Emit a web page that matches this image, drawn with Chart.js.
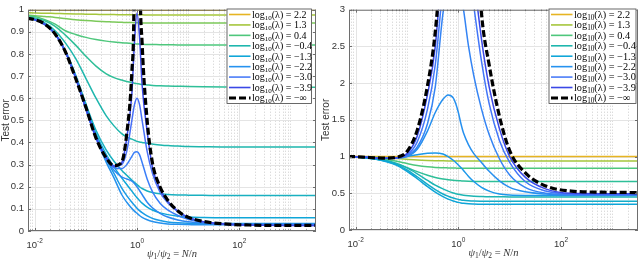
<!DOCTYPE html>
<html>
<head>
<meta charset="utf-8">
<script src="https://cdn.jsdelivr.net/npm/chart.js@4.4.0/dist/chart.umd.min.js"></script>
<style>
  html, body { margin: 0; padding: 0; background: #fff; }
  #wrap { position: relative; width: 640px; height: 259px; }
  .panel { position: absolute; top: 0; width: 320px; height: 259px; }
</style>
</head>
<body>
<div id="wrap">
  <div class="panel" style="left:0"><canvas id="left"></canvas></div>
  <div class="panel" style="left:320px"><canvas id="right"></canvas></div>
</div>
<script>
// shared x grid: psi1/psi2 = N/n
const xRatio = [0.00708, 0.01, 0.0158, 0.0251, 0.0398, 0.0631, 0.1, 0.158, 0.251, 0.355,
  0.501, 0.631, 0.794, 0.891, 1, 1.12, 1.26, 1.58, 2.0, 2.82, 3.98, 6.31, 10, 20, 50, 158, 631, 3162];

// x tick labels (10^-2, 10^0, 10^2)
const xTickValues = [0.01, 1, 100];
const xTickExps = ['-2', '0', '2'];

// legend
const legendValues = ['2.2', '1.3', '0.4', '\u22120.4', '\u22121.3', '\u22122.2', '\u22123.0', '\u22123.9', '\u2212\u221E'];
const legendColors = ['#e6b422', '#a5c63b', '#4ec77c', '#1eb6ad', '#0fa6d8', '#2692ef', '#4a7cf8', '#3a48e6', '#000000'];

// ---- left panel ----
const errL_a = [0.997,0.997,0.997,0.997,0.997,0.997,0.997,0.997,0.997,0.997,0.997,0.997,0.997,0.997,0.997,0.997,0.997,0.997,0.997,0.997,0.997,0.997,0.997,0.997,0.997,0.997,0.997,0.997];
const errL_b = [0.986,0.985,0.984,0.983,0.982,0.981,0.98,0.979,0.978,0.978,0.977,0.977,0.977,0.977,0.977,0.977,0.977,0.976,0.976,0.976,0.976,0.976,0.976,0.976,0.976,0.976,0.976,0.976];
const errL_c = [0.975,0.973,0.969,0.965,0.96,0.955,0.951,0.948,0.946,0.944,0.943,0.942,0.942,0.941,0.941,0.941,0.94,0.94,0.94,0.94,0.94,0.94,0.94,0.94,0.94,0.94,0.94,0.94];
const errL_d = [0.972,0.969,0.955,0.935,0.905,0.888,0.875,0.865,0.858,0.854,0.851,0.849,0.847,0.846,0.845,0.845,0.844,0.843,0.843,0.842,0.842,0.841,0.841,0.84,0.84,0.84,0.84,0.84];
const errL_e = [0.968,0.963,0.95,0.925,0.885,0.84,0.79,0.745,0.71,0.693,0.682,0.676,0.671,0.668,0.666,0.664,0.662,0.66,0.658,0.656,0.655,0.654,0.653,0.652,0.651,0.65,0.65,0.65];
const errL_f = [0.965,0.958,0.94,0.905,0.85,0.78,0.69,0.6,0.52,0.475,0.44,0.425,0.415,0.41,0.405,0.402,0.4,0.396,0.393,0.389,0.386,0.384,0.382,0.381,0.38,0.38,0.38,0.38];
const errL_g = [0.963,0.956,0.935,0.892,0.815,0.705,0.575,0.455,0.365,0.315,0.275,0.252,0.23,0.22,0.21,0.2,0.192,0.181,0.174,0.168,0.165,0.163,0.162,0.161,0.16,0.16,0.16,0.16];
const errL_h = [0.962,0.955,0.934,0.89,0.812,0.7,0.565,0.44,0.345,0.29,0.24,0.21,0.18,0.165,0.15,0.138,0.126,0.108,0.095,0.082,0.074,0.067,0.063,0.061,0.06,0.06,0.06,0.06];
const errL_i = [0.962,0.955,0.934,0.89,0.81,0.695,0.557,0.428,0.325,0.26,0.195,0.16,0.13,0.116,0.103,0.092,0.083,0.068,0.057,0.047,0.041,0.037,0.035,0.034,0.034,0.034,0.034,0.034];
const errL_j = [0.962,0.955,0.934,0.89,0.81,0.693,0.553,0.42,0.31,0.24,0.165,0.13,0.102,0.09,0.08,0.07,0.062,0.051,0.043,0.036,0.032,0.03,0.029,0.028,0.028,0.028,0.028,0.028];
const errL_k = [0.962,0.955,0.934,0.89,0.81,0.695,0.555,0.425,0.325,0.275,0.245,0.235,0.225,0.215,0.2,0.183,0.165,0.13,0.105,0.08,0.063,0.05,0.042,0.036,0.032,0.03,0.03,0.03];
const errL_l = [0.962,0.955,0.934,0.89,0.81,0.693,0.553,0.422,0.33,0.287,0.282,0.3,0.337,0.355,0.358,0.345,0.31,0.235,0.178,0.125,0.095,0.07,0.053,0.04,0.032,0.028,0.027,0.027];
const errL_m = [0.962,0.955,0.934,0.89,0.81,0.693,0.553,0.422,0.331,0.292,0.3,0.36,0.5,0.57,0.6,0.572,0.5,0.36,0.262,0.175,0.128,0.087,0.06,0.041,0.031,0.027,0.026,0.025];
const errL_n = [0.962,0.955,0.934,0.89,0.81,0.693,0.553,0.422,0.331,0.294,0.308,0.42,0.62,0.85,0.985,0.88,0.66,0.45,0.29,0.19,0.135,0.09,0.062,0.042,0.032,0.027,0.025,0.025];
const errL_inf = [0.962,0.955,0.935,0.89,0.81,0.69,0.56,0.42,0.33,0.295,0.31,0.44,0.72,1.25,5,1.4,0.85,0.5,0.31,0.2,0.14,0.09,0.062,0.043,0.032,0.027,0.025,0.025];

// ---- right panel ----
const errR_a = [1,1,1,1,1,1,1,1,1,1,1,1,1,1,1,1,1,1,1,1,1,1,1,1,1,1,1,1];
const errR_b = [1.0,0.999,0.996,0.99,0.982,0.972,0.962,0.953,0.947,0.944,0.942,0.941,0.94,0.94,0.94,0.94,0.94,0.94,0.94,0.94,0.94,0.94,0.94,0.94,0.94,0.94,0.94,0.94];
const errR_c = [0.999,0.997,0.99,0.978,0.96,0.935,0.905,0.878,0.86,0.852,0.848,0.846,0.844,0.843,0.842,0.842,0.841,0.841,0.84,0.84,0.84,0.84,0.84,0.84,0.84,0.84,0.84,0.84];
const errR_d = [0.998,0.995,0.985,0.968,0.94,0.9,0.85,0.795,0.745,0.715,0.695,0.685,0.677,0.674,0.671,0.669,0.667,0.664,0.662,0.661,0.66,0.66,0.66,0.66,0.66,0.66,0.66,0.66];
const errR_e = [0.998,0.995,0.985,0.97,0.945,0.905,0.845,0.765,0.675,0.61,0.56,0.53,0.505,0.495,0.487,0.48,0.474,0.466,0.46,0.456,0.453,0.452,0.451,0.45,0.45,0.45,0.45,0.45];
const errR_f = [0.998,0.994,0.983,0.965,0.935,0.89,0.82,0.725,0.62,0.55,0.49,0.46,0.435,0.425,0.416,0.41,0.405,0.399,0.395,0.392,0.39,0.39,0.39,0.39,0.39,0.39,0.39,0.39];
const errR_g = [0.998,0.994,0.982,0.962,0.93,0.88,0.8,0.7,0.59,0.515,0.455,0.42,0.395,0.385,0.376,0.369,0.364,0.358,0.355,0.352,0.351,0.35,0.35,0.35,0.35,0.35,0.35,0.35];
const errR_h = [1.0,0.998,0.99,0.982,0.98,0.985,1.0,1.025,1.045,1.05,1.035,1.0,0.95,0.92,0.885,0.85,0.81,0.73,0.66,0.58,0.53,0.49,0.475,0.47,0.47,0.47,0.47,0.47];
const errR_i = [1.0,0.998,0.99,0.982,0.978,0.98,1.0,1.1,1.35,1.6,1.78,1.84,1.8,1.72,1.6,1.45,1.32,1.16,1.04,0.92,0.8,0.67,0.58,0.52,0.49,0.478,0.475,0.475];
const errR_j = [1.0,0.998,0.99,0.982,0.978,0.982,1.01,1.13,1.45,1.95,2.95,3.35,3.5,3.48,3.4,3.2,3.0,2.5,2.1,1.65,1.3,0.97,0.75,0.58,0.5,0.48,0.478,0.478];
const errR_k = [1.0,0.998,0.99,0.982,0.978,0.983,1.02,1.2,1.65,2.25,3.3,3.8,4,4,4,4,4,3.6,3.05,2.3,1.72,1.22,0.92,0.66,0.53,0.49,0.485,0.485];
const errR_l = [1.0,0.998,0.99,0.982,0.978,0.985,1.04,1.28,1.85,2.5,3.8,4.5,5,5,5,5,5,4.3,3.5,2.6,1.95,1.38,1.0,0.72,0.56,0.5,0.495,0.495];
const errR_inf = [1.0,0.998,0.99,0.982,0.978,0.99,1.07,1.36,1.97,2.7,4.0,5,6,6,6,6,6,5.5,4.5,2.95,2.25,1.55,1.08,0.78,0.6,0.53,0.515,0.51];

const FONT_SANS = "'Liberation Sans', Arial, sans-serif";
const FONT_SERIF = "'Liberation Serif', 'Times New Roman', serif";

function line(values, color, width, dash) {
  return {
    data: xRatio.map((x, i) => ({ x: x, y: values[i] })),
    borderColor: color,
    borderWidth: width,
    borderDash: dash || [],
    pointRadius: 0,
    cubicInterpolationMode: 'monotone',
    fill: false
  };
}

// MATLAB-like axes: grid, box, ticks, x labels, legend
const matlabAxes = {
  id: 'matlab',
  beforeDatasetsDraw(chart, args, o) {
    const { ctx, chartArea: a, scales: { x, y } } = chart;
    ctx.save();
    ctx.lineWidth = 1;
    ctx.strokeStyle = '#cdcdcd';
    ctx.setLineDash([1, 2]);
    for (let d = -3; d <= 3; d++) {
      for (let m = 1; m <= 9; m++) {
        const v = m * Math.pow(10, d);
        if (v < x.min || v > x.max) continue;
        if (m === 1 && d % 2 === 0) continue;
        const px = Math.round(x.getPixelForValue(v)) + 0.5;
        ctx.beginPath(); ctx.moveTo(px, a.top); ctx.lineTo(px, a.bottom); ctx.stroke();
      }
    }
    ctx.setLineDash([]);
    ctx.strokeStyle = '#e4e4e4';
    xTickValues.forEach(v => {
      const px = Math.round(x.getPixelForValue(v)) + 0.5;
      ctx.beginPath(); ctx.moveTo(px, a.top); ctx.lineTo(px, a.bottom); ctx.stroke();
    });
    y.ticks.forEach(t => {
      const py = Math.round(y.getPixelForValue(t.value)) + 0.5;
      ctx.beginPath(); ctx.moveTo(a.left, py); ctx.lineTo(a.right, py); ctx.stroke();
    });
    ctx.restore();
  },
  afterDraw(chart, args, o) {
    const { ctx, chartArea: a, scales: { x, y } } = chart;
    ctx.save();
    // box
    ctx.strokeStyle = '#6e6e6e';
    ctx.lineWidth = 1;
    ctx.strokeRect(a.left + 0.5, a.top + 0.5, a.right - a.left - 1, a.bottom - a.top - 1);
    // tick marks
    ctx.beginPath();
    for (let d = -3; d <= 3; d++) {
      for (let m = 1; m <= 9; m++) {
        const v = m * Math.pow(10, d);
        if (v < x.min || v > x.max) continue;
        const len = (m === 1 && d % 2 === 0) ? 3 : 1.5;
        const px = Math.round(x.getPixelForValue(v)) + 0.5;
        ctx.moveTo(px, a.bottom); ctx.lineTo(px, a.bottom - len);
        ctx.moveTo(px, a.top); ctx.lineTo(px, a.top + len);
      }
    }
    y.ticks.forEach(t => {
      const py = Math.round(y.getPixelForValue(t.value)) + 0.5;
      ctx.moveTo(a.left, py); ctx.lineTo(a.left + 3, py);
      ctx.moveTo(a.right, py); ctx.lineTo(a.right - 3, py);
    });
    ctx.stroke();

    // x tick labels 10^k
    ctx.fillStyle = '#333';
    ctx.textBaseline = 'alphabetic';
    xTickValues.forEach((v, i) => {
      const px = x.getPixelForValue(v);
      ctx.font = '9.5px ' + FONT_SANS;
      const w1 = ctx.measureText('10').width;
      ctx.font = '6.5px ' + FONT_SANS;
      const w2 = ctx.measureText(xTickExps[i]).width;
      const x0 = px - (w1 + w2) / 2;
      ctx.font = '9.5px ' + FONT_SANS;
      ctx.fillText('10', x0, a.bottom + 16.5);
      ctx.font = '6.5px ' + FONT_SANS;
      ctx.fillText(xTickExps[i], x0 + w1, a.bottom + 12);
    });

    // x axis title: psi_1/psi_2 = N/n
    const parts = [
      { t: '\u03C8', f: 'italic 10.5px ' + FONT_SERIF, dy: 0 },
      { t: '1', f: '7.5px ' + FONT_SERIF, dy: 2 },
      { t: '/', f: '10.5px ' + FONT_SERIF, dy: 0 },
      { t: '\u03C8', f: 'italic 10.5px ' + FONT_SERIF, dy: 0 },
      { t: '2', f: '7.5px ' + FONT_SERIF, dy: 2 },
      { t: ' = ', f: '10.5px ' + FONT_SERIF, dy: 0 },
      { t: 'N', f: 'italic 10.5px ' + FONT_SERIF, dy: 0 },
      { t: '/', f: '10.5px ' + FONT_SERIF, dy: 0 },
      { t: 'n', f: 'italic 10.5px ' + FONT_SERIF, dy: 0 }
    ];
    let total = 0;
    parts.forEach(p => { ctx.font = p.f; p.w = ctx.measureText(p.t).width; total += p.w; });
    let cx = (a.left + a.right) / 2 - total / 2;
    parts.forEach(p => {
      ctx.font = p.f;
      ctx.fillText(p.t, cx, a.bottom + 25.5 + p.dy);
      cx += p.w;
    });

    // legend
    const L = o.legend;
    ctx.fillStyle = '#fff';
    ctx.fillRect(L.x, L.y, L.w, L.h);
    ctx.strokeStyle = '#444';
    ctx.lineWidth = 0.8;
    ctx.strokeRect(L.x + 0.5, L.y + 0.5, L.w - 1, L.h - 1);
    legendValues.forEach((val, i) => {
      const cy = L.y + 6 + i * 10.43;
      const isInf = i === legendValues.length - 1;
      ctx.beginPath();
      ctx.strokeStyle = legendColors[i];
      ctx.lineWidth = isInf ? 3 : 1.6;
      ctx.setLineDash(isInf ? [7, 3] : []);
      ctx.moveTo(L.x + 2.5, cy);
      ctx.lineTo(L.x + 24, cy);
      ctx.stroke();
      ctx.setLineDash([]);
      ctx.fillStyle = '#000';
      let tx = L.x + 25.5;
      const by = cy + 3.4;
      ctx.font = L.fs + 'px ' + FONT_SERIF;
      ctx.fillText('log', tx, by);
      tx += ctx.measureText('log').width;
      ctx.font = (L.fs * 0.7) + 'px ' + FONT_SERIF;
      ctx.fillText('10', tx, by + 2);
      tx += ctx.measureText('10').width;
      ctx.font = L.fs + 'px ' + FONT_SERIF;
      ctx.fillText('(\u03BB) = ' + val, tx, by);
    });
    ctx.restore();
  }
};

function makePanel(id, series, colors, yMax, yStep, pad, yWidth, xHeight, legend) {
  const n = series.length;
  const datasets = series.map((s, i) => {
    const isInf = i === n - 1;
    const ds = line(s, colors[i], isInf ? 3.2 : 1.5, isInf ? [7, 3] : null);
    ds.order = n - 1 - i;
    return ds;
  });
  return new Chart(document.getElementById(id), {
    type: 'line',
    data: { datasets: datasets },
    options: {
      responsive: true,
      maintainAspectRatio: false,
      animation: false,
      devicePixelRatio: 1,
      layout: { padding: pad },
      plugins: { legend: { display: false }, tooltip: { enabled: false }, matlab: { legend: legend } },
      scales: {
        x: {
          type: 'logarithmic',
          min: 0.0074,
          max: 3162,
          grid: { display: false, drawTicks: false },
          border: { display: false },
          ticks: { display: false },
          afterFit: s => { s.height = xHeight; }
        },
        y: {
          min: 0,
          max: yMax,
          grid: { display: false, drawTicks: false },
          border: { display: false },
          ticks: {
            stepSize: yStep,
            padding: 4,
            color: '#333',
            font: { family: FONT_SANS, size: 9.5 },
            callback: v => String(Math.round(v * 10) / 10)
          },
          title: {
            display: true,
            text: 'Test error',
            color: '#333',
            padding: 0,
            font: { family: FONT_SANS, size: 10 }
          },
          afterFit: s => { s.width = yWidth; }
        }
      }
    },
    plugins: [matlabAxes]
  });
}

const leftSeries = [errL_a, errL_b, errL_c, errL_d, errL_e, errL_f, errL_g, errL_h, errL_i, errL_j, errL_k, errL_l, errL_m, errL_n, errL_inf];
const leftColors = ['#e6b422', '#a5c63b', '#7cc95a', '#4ec77c', '#2fbf98', '#1eb6ad', '#19b0c0', '#0fa6d8', '#1a9be6', '#2692ef', '#2e88f2', '#3a7ef8', '#4870f8', '#3a48e6', '#000000'];
const rightSeries = [errR_a, errR_b, errR_c, errR_d, errR_e, errR_f, errR_g, errR_h, errR_i, errR_j, errR_k, errR_l, errR_inf];
const rightColors = ['#e6b422', '#a5c63b', '#4ec77c', '#2ebf98', '#1db5b3', '#13acc8', '#0fa5d8', '#1c98ea', '#2690ef', '#3484f4', '#4276f8', '#3a48e6', '#000000'];

makePanel('left', leftSeries, leftColors, 1, 0.1, { top: 4, right: 4, left: 0, bottom: 0 }, 28, 28,
  { x: 226.5, y: 8.5, w: 85.5, h: 95.5, fs: 10 });
makePanel('right', rightSeries, rightColors, 3, 0.5, { top: 3, right: 2, left: 0, bottom: 0 }, 29, 29,
  { x: 228.5, y: 8.5, w: 88, h: 95.5, fs: 10.3 });
</script>
</body>
</html>
